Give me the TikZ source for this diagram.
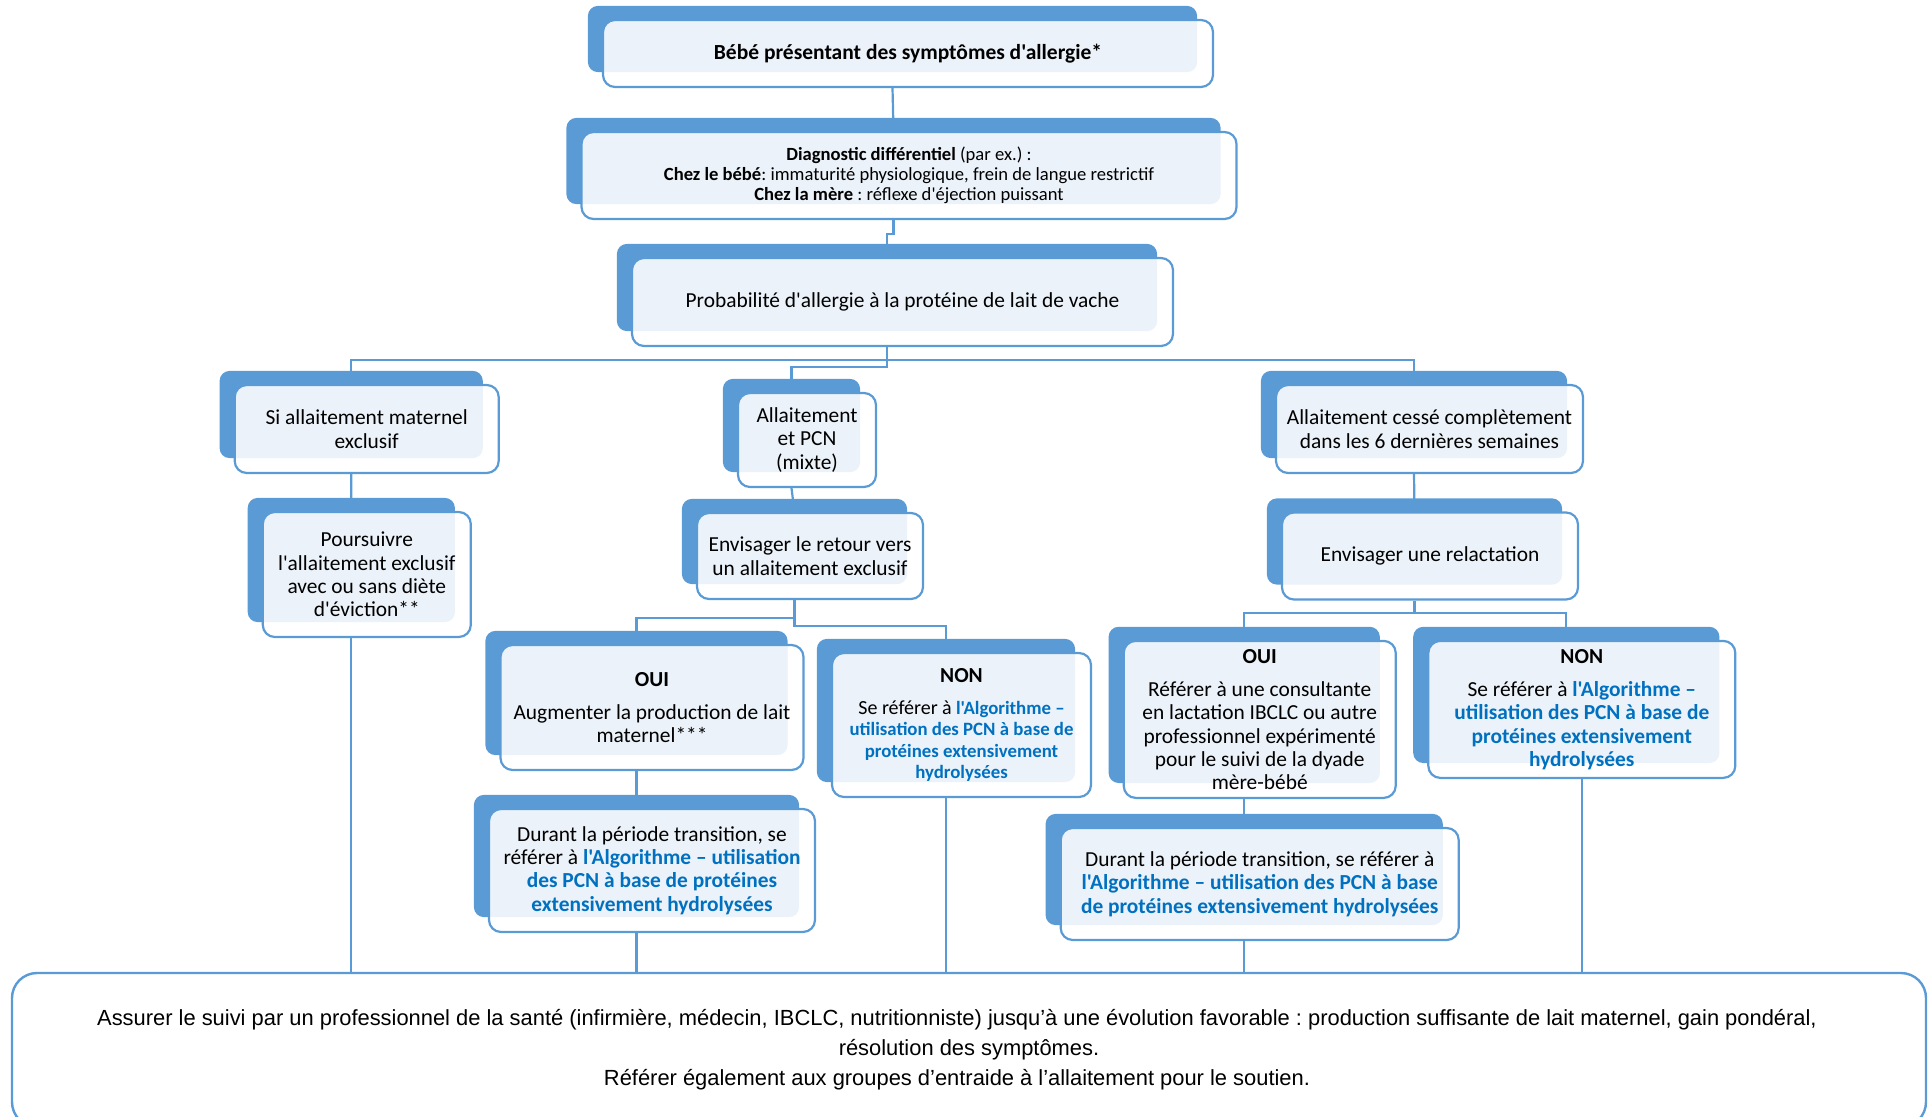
\documentclass[tikz,border=0pt]{standalone}
\usepackage{fontspec}
\setmainfont{Carlito}[Ligatures=TeXOff]
\newfontfamily\arialfont{Liberation Sans}
\usetikzlibrary{backgrounds}

\definecolor{boxblue}{HTML}{5B9BD5}
\definecolor{linkblue}{HTML}{0070C0}
\newcommand{\algolink}[1]{\textcolor{linkblue}{\textbf{#1}}}
\frenchspacing

\pgfdeclarelayer{links}
\pgfdeclarelayer{backs}
\pgfsetlayers{links,backs,main}

\tikzset{
    %Define style for the text boxes (white, see-through)
    frontbox/.style={
           rectangle,
           rounded corners=12pt,
           draw=boxblue, line width=2.2pt,
           fill=white, fill opacity=0.88, text opacity=1,
           inner sep=2pt,
           align=center,
           font=\fontsize{21.4}{23.3}\selectfont},
    %Define style for the blue box behind each text box
    backbox/.style={
           fill=boxblue,
           rounded corners=10pt},
    %Define style for connectors
    wire/.style={
           draw=boxblue,
           line width=2.2pt}
}

\begin{document}
\begin{tikzpicture}[x=1pt,y=-1pt]
\useasboundingbox (0,0) rectangle (1932,1116);
%top of the chart
\node[frontbox, minimum width=610, minimum height=67, font=\fontsize{21.5}{23}\selectfont\bfseries] (bebe) at (908,53.5) {Bébé présentant des symptômes d'allergie*};
\node[frontbox, minimum width=655, minimum height=87, font=\fontsize{18.6}{20}\selectfont] (diag) at (909,175.5) {\textbf{Diagnostic différentiel} (par ex.) :\\
  \textbf{Chez le bébé}: immaturité physiologique, frein de langue restrictif\\
  \textbf{Chez la mère} : réflexe d'éjection puissant};
\node[frontbox, minimum width=541, minimum height=88, font=\fontsize{21.4}{23}\selectfont] (proba) at (902.5,302) {Probabilité d'allergie à la protéine de lait de vache};
%three branches
\node[frontbox, minimum width=264, minimum height=88] (exclu) at (366.7,429) {Si allaitement maternel\\exclusif};
\node[frontbox, minimum width=138, minimum height=94] (mixte) at (807,440) {Allaitement\\et PCN\\(mixte)};
\node[frontbox, minimum width=307, minimum height=88] (cesse) at (1429.5,429) {Allaitement cessé complètement\\dans les 6 dernières semaines};
%second row
\node[frontbox, minimum width=208, minimum height=125] (poursuivre) at (366.8,574.5) {Poursuivre\\l'allaitement exclusif\\avec ou sans diète\\d'éviction**};
\node[frontbox, minimum width=226, minimum height=86] (retour) at (810,556) {Envisager le retour vers\\un allaitement exclusif};
\node[frontbox, minimum width=296, minimum height=87] (relact) at (1430,556) {Envisager une relactation};
%answers
\node[frontbox, minimum width=303, minimum height=125] (ouiprod) at (652,707.5) {\textbf{OUI}\\[10pt]Augmenter la production de lait\\maternel***};
\node[frontbox, minimum width=259, minimum height=144, font=\fontsize{18.8}{21.5}\selectfont] (nonM) at (961.5,725) {{\fontsize{21.4}{23}\selectfont\textbf{NON}}\\[10pt]{\fontsize{20}{21.5}\selectfont Se référer à} \algolink{l'Algorithme –}\\
  \algolink{utilisation des PCN à base de}\\\algolink{protéines extensivement}\\\algolink{hydrolysées}};
\node[frontbox, minimum width=272, minimum height=157] (ouiIBCLC) at (1259.7,719.4) {\textbf{OUI}\\[10pt]Référer à une consultante\\en lactation IBCLC ou autre\\professionnel expérimenté\\pour le suivi de la dyade\\mère-bébé};
\node[frontbox, minimum width=307, minimum height=137] (nonR) at (1581.8,709.4) {\textbf{NON}\\[10pt]Se référer à \algolink{l'Algorithme –}\\
  \algolink{utilisation des PCN à base de}\\\algolink{protéines extensivement}\\\algolink{hydrolysées}};
%transition period
\node[frontbox, minimum width=326, minimum height=123] (transM) at (652,870.5) {Durant la période transition, se\\référer à \algolink{l'Algorithme – utilisation}\\
  \algolink{des PCN à base de protéines}\\\algolink{extensivement hydrolysées}};
\node[frontbox, minimum width=398, minimum height=112] (transR) at (1259.7,884) {Durant la période transition, se référer à\\
  \algolink{l'Algorithme – utilisation des PCN à base}\\\algolink{de protéines extensivement hydrolysées}};
%follow-up box at the bottom
\node[draw=boxblue, line width=2.4pt, rounded corners=25pt, fill=white, minimum width=1914, minimum height=154, align=center, font=\arialfont\fontsize{21.9}{30}\selectfont] (suivi) at (969,1050) {Assurer le suivi par un professionnel de la santé (infirmière, médecin, IBCLC, nutritionniste) jusqu’à une évolution favorable : production suffisante de lait maternel, gain pondéral,\hspace*{24pt}\\
  résolution des symptômes.\hspace*{24pt}\\Référer également aux groupes d’entraide à l’allaitement pour le soutien.\hspace*{24pt}};

%blue boxes behind
\begin{pgfonlayer}{backs}
\foreach \n in {bebe,diag,proba,exclu,mixte,cesse,poursuivre,retour,relact,ouiprod,nonM,ouiIBCLC,nonR,transM,transR}
  \fill[backbox] ([shift={(-14,-13)}]\n.north west) rectangle ([shift={(-17,-16)}]\n.south east);
\end{pgfonlayer}

%connectors
\begin{pgfonlayer}{links}
\draw[wire] ([xshift=-15.5]bebe.south) -- ([xshift=-15.5]diag.north);
\draw[wire] ([xshift=-15.5]diag.south) -- ++(0,14) -| ([xshift=-15.5]proba.north);
\draw[wire] ([xshift=-15.5]proba.south) -- ++(0,12.5) coordinate (busA);
\draw[wire] (busA) -| ([xshift=-15.5]exclu.north);
\draw[wire] (busA) -| ([xshift=-15.5]cesse.north);
\draw[wire] (busA) -- ++(0,7) -| ([xshift=-15.5]mixte.north);
\draw[wire] ([xshift=-15.5]exclu.south) -- ([xshift=-15.5]poursuivre.north);
\draw[wire] ([xshift=-15.5]mixte.south) -- ([xshift=-15.5]retour.north);
\draw[wire] ([xshift=-15.5]cesse.south) -- ([xshift=-15.5]relact.north);
\draw[wire] ([xshift=-15.5]retour.south) -- ++(0,18) coordinate (busB) -| ([xshift=-15.5]ouiprod.north);
\draw[wire] (busB) -- ++(0,8) -| ([xshift=-15.5]nonM.north);
\draw[wire] ([xshift=-15.5]relact.south) -- ++(0,12) coordinate (busC) -| ([xshift=-15.5]ouiIBCLC.north);
\draw[wire] (busC) -| ([xshift=-15.5]nonR.north);
\draw[wire] ([xshift=-15.5]ouiprod.south) -- ([xshift=-15.5]transM.north);
\draw[wire] ([xshift=-15.5]ouiIBCLC.south) -- ([xshift=-15.5]transR.north);
%down to the follow-up box
\foreach \n in {poursuivre,transM,nonM,transR}
  \draw[wire] ([xshift=-15.5]\n.south) -- ([xshift=-15.5]\n.south |- suivi.north);
\draw[wire] (nonR.south) -- (nonR.south |- suivi.north);
\end{pgfonlayer}
\end{tikzpicture}
\end{document}
